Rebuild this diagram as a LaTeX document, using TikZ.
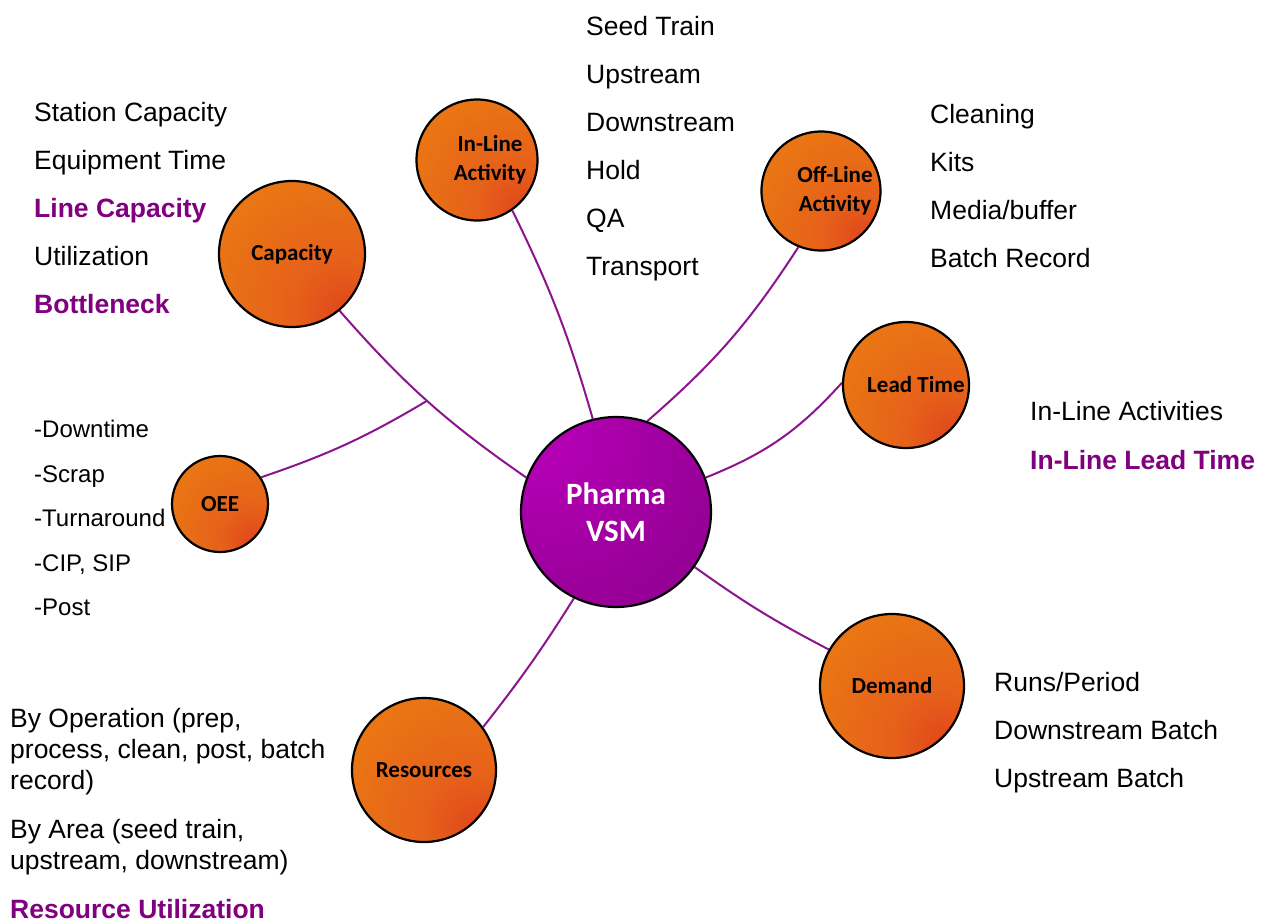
\documentclass[tikz,border=0pt]{standalone}
\usepackage{fontspec}
\setmainfont{Liberation Sans}
\newfontfamily\calib{Carlito}
\usetikzlibrary{backgrounds}
\definecolor{oorange}{HTML}{E97514}
\definecolor{omid}{HTML}{E6601A}
\definecolor{ored}{HTML}{E0431C}
\definecolor{plight}{HTML}{BC00BC}
\definecolor{pmid}{HTML}{9C009C}
\definecolor{pdark}{HTML}{7A007A}
\definecolor{textpurple}{HTML}{800080}
\definecolor{linepurple}{HTML}{8C148C}
\pgfdeclareradialshading{orangeball}{\pgfpoint{20bp}{-22bp}}{color(0bp)=(ored); color(16bp)=(omid); color(40bp)=(oorange); color(100bp)=(oorange)}
\pgfdeclareradialshading{purpleball}{\pgfpoint{-25bp}{25bp}}{color(0bp)=(plight); color(35bp)=(pmid); color(75bp)=(pdark); color(100bp)=(pdark)}
\tikzset{
  bubble/.style={circle, draw=black, line width=2.2pt, inner sep=0pt, shade, shading=orangeball,
    font=\calib\bfseries\fontsize{23}{29}\selectfont, align=center},
  hub/.style={circle, draw=black, line width=2.2pt, inner sep=0pt, shade, shading=purpleball,
    text=white, font=\calib\bfseries\fontsize{31}{37}\selectfont, align=center},
  blabel/.style={font=\calib\bfseries\fontsize{23}{29}\selectfont, align=center, inner sep=0pt},
  conn/.style={draw=linepurple, line width=2pt},
  item/.style={anchor=base west, inner sep=0pt, font=\fontsize{26.5}{32}\selectfont},
  hot/.style={anchor=base west, inner sep=0pt, text=textpurple, font=\bfseries\fontsize{26.5}{32}\selectfont},
  small/.style={anchor=base west, inner sep=0pt, font=\fontsize{24}{28}\selectfont},
}
\begin{document}
\begin{tikzpicture}[x=1pt,y=1pt]
\useasboundingbox (0,0) rectangle (1270,-922);

% circles
\node[hub, minimum size=190pt] (vsm) at (616,-512) {Pharma\\VSM};
\node[bubble, minimum size=146pt] (cap) at (292,-254) {Capacity};
\node[bubble, minimum size=121pt, label={[blabel, xshift=13pt]center:In-Line\\Activity}] (inl) at (477,-160) {};
\node[bubble, minimum size=119pt, label={[blabel, xshift=14pt]center:Off-Line\\Activity}] (offl) at (821,-191) {};
\node[bubble, minimum size=126pt, label={[blabel, xshift=10pt]center:Lead Time}] (lead) at (906,-385) {};
\node[bubble, minimum size=96pt] (oee) at (220,-504) {OEE};
\node[bubble, minimum size=144pt] (dem) at (892,-686) {Demand};
\node[bubble, minimum size=144pt] (res) at (424,-770) {Resources};

% connectors behind the circles
\begin{pgfonlayer}{background}
\fill[white] (0,0) rectangle (1270,-922);
\draw[conn] (cap.310) to[bend right=7] coordinate[pos=0.5] (j) (vsm.159);
\draw[conn] (oee.33) to[bend right=6] (j);
\draw[conn] (inl.-55) to[bend left=5] (vsm.104);
\draw[conn] (offl.248) to[bend left=8] (vsm.71);
\draw[conn] (lead.178) to[bend left=13] (vsm.21);
\draw[conn] (dem.150) to[bend left=4] (vsm.-35);
\draw[conn] (res.36) to[bend right=3] (vsm.244);
\end{pgfonlayer}

% Capacity list
\node[item] (c1) at (34,-121.5) {Station Capacity};
\node[item] (c2) at (34,-169.5) {Equipment Time};
\node[hot]  (c3) at (34,-217.5) {Line Capacity};
\node[item] (c4) at (34,-265.5) {Utilization};
\node[hot]  (c5) at (34,-313.5) {Bottleneck};

% In-Line list
\node[item] (i1) at (586,-35.5) {Seed Train};
\node[item] (i2) at (586,-83.5) {Upstream};
\node[item] (i3) at (586,-131.5) {Downstream};
\node[item] (i4) at (586,-179.5) {Hold};
\node[item] (i5) at (586,-227.5) {QA};
\node[item] (i6) at (586,-275.5) {Transport};

% Off-Line list
\node[item] (f1) at (930,-123.5) {Cleaning};
\node[item] (f2) at (930,-171.5) {Kits};
\node[item] (f3) at (930,-219.5) {Media/buffer};
\node[item] (f4) at (930,-267.5) {Batch Record};

% Lead time list
\node[item] (l1) at (1030,-420.5) {In-Line Activities};
\node[hot]  (l2) at (1030,-469.5) {In-Line Lead Time};

% OEE list
\node[small] (o1) at (34,-437.6) {-Downtime};
\node[small] (o2) at (34,-482.6) {-Scrap};
\node[small] (o3) at (34,-526.6) {-Turnaround};
\node[small] (o4) at (34,-571.6) {-CIP, SIP};
\node[small] (o5) at (34,-615.6) {-Post};

% Demand list
\node[item] (d1) at (994,-691.5) {Runs/Period};
\node[item] (d2) at (994,-739.5) {Downstream Batch};
\node[item] (d3) at (994,-787.5) {Upstream Batch};

% Resources list
\node[item] (r1) at (10,-727.5) {By Operation (prep,};
\node[item] (r2) at (10,-758.5) {process, clean, post, batch};
\node[item] (r3) at (10,-789.5) {record)};
\node[item] (r4) at (10,-838.5) {By Area (seed train,};
\node[item] (r5) at (10,-869.5) {upstream, downstream)};
\node[hot]  (r6) at (10,-918.5) {Resource Utilization};
\end{tikzpicture}
\end{document}
